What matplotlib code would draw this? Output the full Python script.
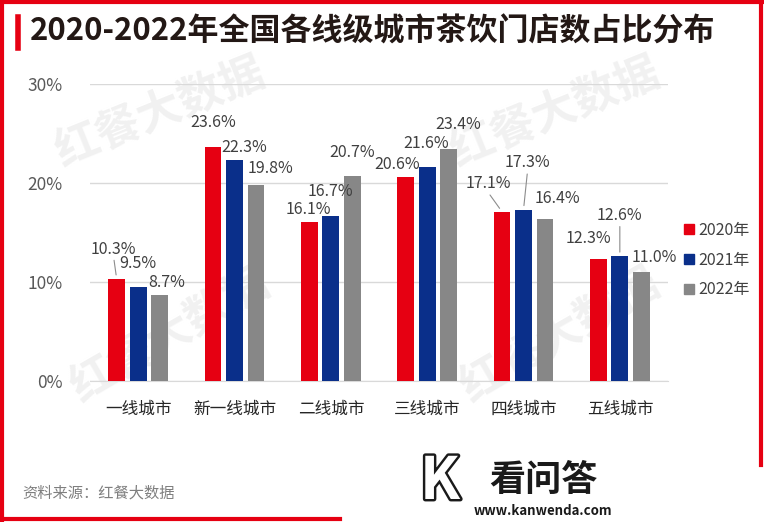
import matplotlib.pyplot as plt
import matplotlib.patheffects as pe
from matplotlib.lines import Line2D
from matplotlib.patches import Patch
import numpy as np

plt.rcParams['font.family'] = ['Noto Sans CJK SC', 'DejaVu Sans']

categories = ['一线城市', '新一线城市', '二线城市', '三线城市', '四线城市', '五线城市']
years = ['2020年', '2021年', '2022年']
share_2020 = [10.3, 23.6, 16.1, 20.6, 17.1, 12.3]
share_2021 = [9.5, 22.3, 16.7, 21.6, 17.3, 12.6]
share_2022 = [8.7, 19.8, 20.7, 23.4, 16.4, 11.0]
yticks = [0, 10, 20, 30]

title = '2020-2022年全国各线级城市茶饮门店数占比分布'
source = '资料来源：红餐大数据'

colors = ['#e60012', '#0a2f8a', '#878787']
# label offsets in pixels (dx, dy) and whether a leader line is drawn
label_offsets = [
    [(-3, 30, True), (0, 25, False), (-1, 12, False), (-9, 13, False), (-14, 28, True), (-10, 21, False)],
    [(0, 23, False), (10, 13, False), (0, 24, False), (-1, 24, False), (4, 47, True), (0, 41, True)],
    [(7, 12, False), (15, 16, False), (0, 24, False), (10, 25, False), (12, 20, False), (13, 15, False)],
]

W, H = 764, 522
fx = lambda px: px / W
fy = lambda py: 1 - py / H

fig = plt.figure(figsize=(W / 100, H / 100), dpi=100)
ax = fig.add_axes([fx(90), fy(381), fx(668) - fx(90), fy(84) - fy(381)])
ax.patch.set_alpha(0)

x = np.arange(len(categories))
width = 0.176
step = 0.223
series = [share_2020, share_2021, share_2022]
for i, vals in enumerate(series):
    pos = x + (i - 1) * step
    ax.bar(pos, vals, width, color=colors[i], zorder=3, label=years[i])
    for j, v in enumerate(vals):
        dx, dy, lead = label_offsets[i][j]
        kw = {}
        if lead:
            kw['arrowprops'] = dict(arrowstyle='-', color='#8c8c8c', lw=0.8,
                                    shrinkA=0, shrinkB=3, relpos=(0.5, 0))
        ax.annotate(f'{v:.1f}%', xy=(pos[j], v), xytext=(dx, dy),
                    textcoords='offset pixels', ha='center', va='center',
                    fontsize=11.5, color='#404040', zorder=5, **kw)

ax.set_xlim(-0.5, len(categories) - 0.5)
ax.set_ylim(0, 30)
ax.set_yticks(yticks)
ax.set_yticklabels([f'{t}%' for t in yticks])
ax.set_xticks(x)
ax.set_xticklabels(categories)
ax.grid(axis='y', color='#d9d9d9', lw=1, zorder=0)
ax.tick_params(axis='y', length=0, pad=20, labelsize=12.5, labelcolor='#595959')
ax.tick_params(axis='x', length=0, pad=14, labelsize=12, labelcolor='#262626')
for s in ['top', 'right', 'left']:
    ax.spines[s].set_visible(False)
ax.spines['bottom'].set_color('#d9d9d9')

handles = [Patch(color=c) for c in colors]
fig.legend(handles, years, loc='center left', bbox_to_anchor=(fx(670), fy(260)),
           frameon=False, handlelength=0.6, handleheight=0.6, handletextpad=0.3,
           labelspacing=0.8, fontsize=11.5, labelcolor='#404040')

# title
fig.add_artist(Line2D([fx(18), fx(18)], [fy(17), fy(48)], color='#e60012', lw=4))
fig.text(fx(30), fy(32), title, fontsize=22.3, fontweight='bold', color='#231815',
         ha='left', va='center')
fig.text(fx(22), fy(493), source, fontsize=11, color='#7f7f7f', ha='left', va='center')

# faint background watermarks
for (wx, wy, rot) in [(160, 112, 22), (170, 335, 30), (555, 112, 22), (560, 335, 30)]:
    fig.text(fx(wx), fy(wy), '红餐大数据', fontsize=32, fontweight='bold', color='#f1f1f1',
             rotation=rot, ha='center', va='center', zorder=-1)

# frame
red = '#e60012'
fig.add_artist(Line2D([0, 1], [fy(1.5), fy(1.5)], color=red, lw=3))
fig.add_artist(Line2D([fx(1.5), fx(1.5)], [fy(0), fy(H)], color=red, lw=3))
fig.add_artist(Line2D([fx(761), fx(761)], [fy(0), fy(465)], color=red, lw=3))
fig.add_artist(Line2D([0, fx(340)], [fy(519), fy(519)], color=red, lw=3))

# site stamp
fig.text(fx(440), fy(482), 'K', fontsize=42, fontweight='bold', color='white',
         ha='center', va='center',
         path_effects=[pe.withStroke(linewidth=3.5, foreground='#1a1a1a')])
fig.text(fx(543), fy(480), '看问答', fontsize=26, fontweight='bold', color='#1a1a1a',
         ha='center', va='center')
fig.text(fx(543), fy(511), 'www.kanwenda.com', fontsize=9.5, fontweight='bold',
         color='#1a1a1a', ha='center', va='center')

fig.savefig('out.png', dpi=100)
